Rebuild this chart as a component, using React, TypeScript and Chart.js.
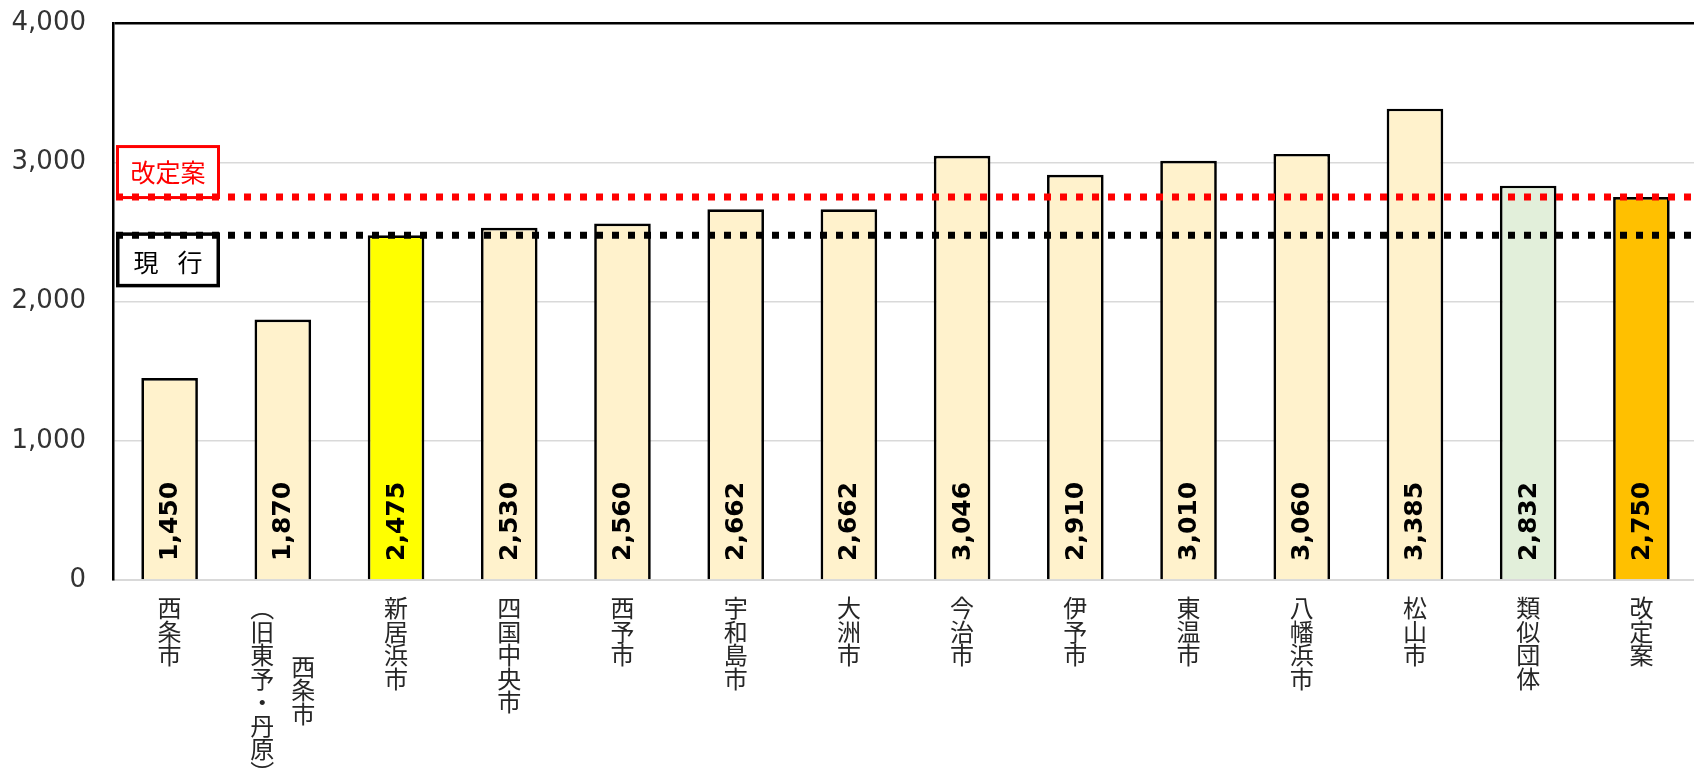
import React, { useEffect, useRef } from 'react';
import { Chart, registerables } from 'chart.js';

Chart.register(...registerables);

// Municipalities compared; "\n" separates the columns of a two-column vertical label
const categories = [
  '西条市',
  '西条市\n（旧東予・丹原）',
  '新居浜市',
  '四国中央市',
  '西予市',
  '宇和島市',
  '大洲市',
  '今治市',
  '伊予市',
  '東温市',
  '八幡浜市',
  '松山市',
  '類似団体',
  '改定案',
];

const values = [1450, 1870, 2475, 2530, 2560, 2662, 2662, 3046, 2910, 3010, 3060, 3385, 2832, 2750];

const barColors = [
  '#FFF2CC', '#FFF2CC', '#FFFF00', '#FFF2CC', '#FFF2CC', '#FFF2CC', '#FFF2CC',
  '#FFF2CC', '#FFF2CC', '#FFF2CC', '#FFF2CC', '#FFF2CC', '#E2EFDA', '#FFC000',
];

const yTicks = [0, 1000, 2000, 3000, 4000];
const yTickLabels = ['0', '1,000', '2,000', '3,000', '4,000'];

const currentLevel = 2475;
const currentLabel = '現 行';
const proposedLevel = 2750;
const proposedLabel = '改定案';

const NUM_FONT = '"DejaVu Sans", Verdana, sans-serif';
const JP_FONT = '"Noto Sans CJK JP", "Noto Sans", sans-serif';

const fmt = (v: number) => v.toLocaleString('en-US');

// Upright vertical writing: swap brackets for their vertical presentation forms
const toVertical = (s: string) => s.replace(/（/g, '︵').replace(/）/g, '︶');

const categoryLabelPlugin = {
  id: 'categoryLabels',
  afterDraw(chart: any) {
    const { ctx } = chart;
    const xScale = chart.scales.x;
    const pitch = 23.5;
    const colGap = 41;
    const firstCenter = chart.chartArea.bottom + 28;
    ctx.save();
    ctx.font = `24px ${JP_FONT}`;
    ctx.fillStyle = '#262626';
    ctx.textAlign = 'center';
    ctx.textBaseline = 'middle';
    categories.forEach((label, i) => {
      const cx = xScale.getPixelForValue(i);
      const cols = label.split('\n').map((c) => Array.from(toVertical(c)));
      const longest = Math.max(...cols.map((c) => c.length));
      cols.forEach((chars, ci) => {
        const x = cx + ((cols.length - 1) / 2) * colGap - ci * colGap;
        const start = firstCenter + ((longest - chars.length) / 2) * pitch;
        chars.forEach((ch, k) => ctx.fillText(ch, x, start + k * pitch));
      });
    });
    ctx.restore();
  },
};

const valueLabelPlugin = {
  id: 'valueLabels',
  afterDatasetsDraw(chart: any) {
    const { ctx } = chart;
    const meta = chart.getDatasetMeta(0);
    const y0 = chart.scales.y.getPixelForValue(0);
    ctx.save();
    ctx.font = `bold 25px ${NUM_FONT}`;
    ctx.fillStyle = '#000';
    ctx.textAlign = 'left';
    ctx.textBaseline = 'middle';
    meta.data.forEach((bar: any, i: number) => {
      ctx.save();
      ctx.translate(bar.x + 1, y0 - 19);
      ctx.rotate(-Math.PI / 2);
      ctx.fillText(fmt(values[i]), 0, 0);
      ctx.restore();
    });
    ctx.restore();
  },
};

const levelPlugin = {
  id: 'levels',
  afterDatasetsDraw(chart: any) {
    const { ctx, chartArea } = chart;
    const y = chart.scales.y;
    const boxLeft = chartArea.left + 3;
    const boxW = 104;
    const py = y.getPixelForValue(proposedLevel);
    const cy = y.getPixelForValue(currentLevel);

    const box = (top: number, bottom: number, color: string, lw: number) => {
      ctx.save();
      ctx.fillStyle = '#FFFFFF';
      ctx.fillRect(boxLeft, top, boxW, bottom - top);
      ctx.strokeStyle = color;
      ctx.lineWidth = lw;
      ctx.strokeRect(boxLeft + lw / 2, top + lw / 2, boxW - lw, bottom - top - lw);
      ctx.restore();
    };

    // proposed level label box
    box(py - 52, py + 2, '#FF0000', 3);
    ctx.save();
    ctx.font = `25px ${JP_FONT}`;
    ctx.fillStyle = '#FF0000';
    ctx.textAlign = 'center';
    ctx.textBaseline = 'middle';
    ctx.fillText(proposedLabel, boxLeft + boxW / 2, py - 25);
    ctx.restore();

    // current level label box
    box(cy - 3, cy + 52, '#000000', 3.5);
    ctx.save();
    ctx.font = `25px ${JP_FONT}`;
    ctx.fillStyle = '#000';
    ctx.textAlign = 'center';
    ctx.textBaseline = 'middle';
    const parts = currentLabel.split(' ');
    parts.forEach((p, k) => {
      const off = (k - (parts.length - 1) / 2) * 44;
      ctx.fillText(p, boxLeft + boxW / 2 + off, cy + 27);
    });
    ctx.restore();

    // dotted reference lines
    const line = (yy: number, color: string) => {
      ctx.save();
      ctx.strokeStyle = color;
      ctx.lineWidth = 7;
      ctx.setLineDash([7, 9]);
      ctx.beginPath();
      ctx.moveTo(boxLeft, yy);
      ctx.lineTo(chartArea.right, yy);
      ctx.stroke();
      ctx.restore();
    };
    line(py, '#FF0000');
    line(cy, '#000000');
  },
};

export default function App() {
  const ref = useRef<HTMLCanvasElement>(null);

  useEffect(() => {
    const canvas = ref.current;
    if (!canvas) return;
    const chart = new Chart(canvas, {
      type: 'bar',
      data: {
        labels: categories,
        datasets: [
          {
            data: values,
            backgroundColor: barColors,
            borderColor: '#000000',
            borderWidth: 2.7,
            barPercentage: 0.5,
            categoryPercentage: 1,
          },
        ],
      },
      options: {
        responsive: false,
        animation: false,
        devicePixelRatio: 1,
        layout: { padding: { top: 23, left: 0, right: 0, bottom: 0 } },
        plugins: {
          legend: { display: false },
          tooltip: { enabled: false },
        },
        scales: {
          x: {
            grid: { display: false },
            border: { display: true, color: '#D9D9D9', width: 2 },
            ticks: { display: false },
            afterFit: (s: any) => {
              s.height = 191;
              s.paddingLeft = 0;
              s.paddingRight = 0;
            },
          },
          y: {
            min: 0,
            max: 4000,
            afterBuildTicks: (s: any) => {
              s.ticks = yTicks.map((v) => ({ value: v }));
            },
            ticks: {
              callback: (_v: any, i: number) => yTickLabels[i],
              font: { family: NUM_FONT, size: 26 },
              color: '#333333',
              padding: 27,
            },
            grid: {
              drawTicks: false,
              color: (c: any) => (c.tick && c.tick.value === 4000 ? '#000000' : '#D9D9D9'),
              lineWidth: (c: any) => (c.tick && c.tick.value === 4000 ? 2.5 : 1.5),
            },
            border: { color: '#000000', width: 2.5 },
            afterFit: (s: any) => {
              s.width = 113;
              s.paddingTop = 0;
              s.paddingBottom = 0;
            },
          },
        },
      },
      plugins: [categoryLabelPlugin, valueLabelPlugin, levelPlugin],
    });
    return () => chart.destroy();
  }, []);

  return (
    <div
      style={{
        position: 'fixed',
        left: 0,
        top: 0,
        width: 1694,
        height: 771,
        overflow: 'hidden',
        background: '#FFFFFF',
      }}
    >
      <canvas ref={ref} width={1698} height={771} style={{ display: 'block' }} />
    </div>
  );
}
